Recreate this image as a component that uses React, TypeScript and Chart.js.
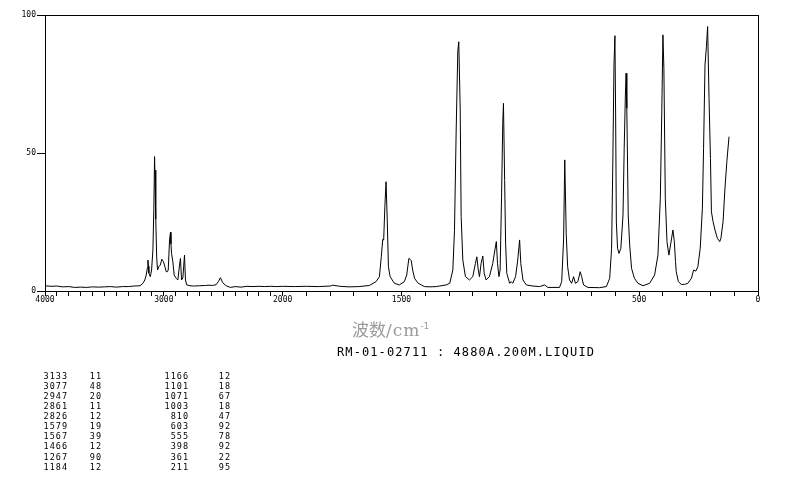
import React, { useEffect, useRef } from 'react';
import { Chart, registerables, LinearScale } from 'chart.js';

// Raman spectrum trace (wavenumber cm-1, relative intensity)
const wavenumbers = [
  4000, 3950, 3900, 3850, 3800, 3750, 3700, 3650, 3600, 3550, 3500, 3450, 3400, 3350, 3300, 3250, 3200,
  3176, 3160, 3148, 3138, 3134, 3130, 3126, 3114, 3103, 3092, 3084, 3078, 3074, 3070, 3066, 3060, 3053,
  3042, 3030, 3017, 3003, 2991, 2980, 2970, 2963, 2952, 2944, 2940, 2935, 2924, 2913, 2896, 2882, 2868,
  2860, 2851, 2840, 2833, 2826, 2818, 2807, 2780, 2750, 2700, 2650, 2620, 2590, 2560, 2540, 2524, 2504,
  2476, 2440, 2400, 2350, 2300, 2250, 2200, 2150, 2100, 2050, 2000, 1950, 1900, 1850, 1800, 1789, 1760,
  1720, 1680, 1635, 1607, 1593, 1585, 1579, 1575, 1570, 1565, 1560, 1555, 1548, 1530, 1509, 1488, 1478,
  1469, 1464, 1459, 1453, 1445, 1432, 1417, 1403, 1380, 1354, 1340, 1312, 1297, 1284, 1277, 1270, 1263,
  1259, 1253, 1249, 1242, 1231, 1214, 1200, 1189, 1183, 1177, 1172, 1165, 1158, 1152, 1144, 1130, 1116,
  1107, 1101, 1096, 1090, 1085, 1079, 1074, 1071, 1066, 1062, 1057, 1045, 1038, 1032, 1020, 1011, 1003,
  998, 989, 975, 947, 919, 898, 884, 835, 826, 818, 813, 807, 801, 793, 784, 776, 768, 758, 748, 742, 734,
  716, 667, 638, 624, 616, 611, 606, 602, 599, 596, 591, 585, 577, 568, 563, 558, 555, 552, 546, 540, 532,
  520, 505, 484, 456, 435, 421, 411, 405, 400, 396, 390, 383, 375, 368, 358, 352, 347, 344, 335, 323, 309,
  295, 280, 271, 262, 253, 243, 234, 229, 223, 217, 212, 206, 200, 196, 189, 181, 171, 161, 156, 147, 139,
  131, 122,
];
const intensities = [
  1.9, 1.7, 1.8, 1.5, 1.6, 1.3, 1.4, 1.3, 1.5, 1.4, 1.5, 1.6, 1.4, 1.6, 1.6, 1.8, 1.9,
  2.8, 4.0, 5.8, 8.5, 11.2, 9.0, 6.5, 5.2, 7.6, 14.8, 30, 48.7, 40, 43.8, 26, 12, 7.6,
  8.8, 9.4, 11.5, 10.6, 8.8, 7.0, 7.0, 7.6, 18.5, 21.3, 17, 13.6, 10.6, 5.8, 4.6, 4.0, 9.4,
  11.8, 4.0, 4.7, 9.0, 13.0, 4.0, 2.2, 1.9, 1.8, 1.9, 2.0, 2.1, 2.0, 2.3, 3.5, 4.8, 3.0,
  1.9, 1.3, 1.6, 1.4, 1.7, 1.6, 1.7, 1.6, 1.7, 1.6, 1.7, 1.6, 1.7, 1.6, 1.8, 2.1, 1.7,
  1.5, 1.6, 2.0, 3.4, 5.2, 12.4, 18.7, 18.5, 30.6, 39.6, 25.7, 8.8, 5.2, 2.8, 2.2, 3.4, 5.8,
  11.8, 11.5, 11.0, 7.6, 4.6, 3.0, 2.2, 1.6, 1.5, 1.6, 1.8, 2.2, 2.8, 7.6, 22, 58, 87,
  90.3, 65.6, 27, 11.2, 5.2, 4.0, 5.2, 10, 12.4, 7.6, 5.2, 10, 12.7, 6.4, 4.0, 5.2, 10,
  14.9, 17.9, 10, 5.2, 7.6, 34, 60.7, 68, 40, 17.3, 6.4, 2.8, 3.4, 2.8, 5.2, 11.2, 18.5,
  10, 4.0, 2.2, 1.8, 1.6, 2.2, 1.3, 1.3, 3.4, 18.5, 47.5, 20.9, 8.8, 4.0, 2.8, 5.2, 2.8, 3.4, 7.0, 5.2, 2.2,
  1.3, 1.2, 1.6, 4.6, 15.5, 45.7, 81.9, 92.5, 63.8, 25, 15.5, 13.6, 15.5, 27.5, 51.7, 71, 78.9, 66.2, 27.5, 16.7, 8.2,
  4.6, 2.8, 1.9, 2.8, 5.8, 13, 33.6, 63.8, 92.8, 80.7, 33.6, 17.9, 13, 16.7, 22.1, 17.9, 10.6, 7.0, 3.4, 2.4, 2.4,
  2.8, 4.6, 7.6, 7.2, 8.8, 15.5, 30, 51.7, 81.9, 88.5, 95.8, 69.8, 48, 28.7, 25.1, 22.1, 19.1, 17.9, 19.1, 25.1, 37.2,
  46.9, 55.9,
];

// Peak table
const peakPositions = [3133, 3077, 2947, 2861, 2826, 1579, 1567, 1466, 1267, 1184, 1166, 1101, 1071, 1003, 810, 603, 555, 398, 361, 211];
const peakIntensities = [11, 48, 20, 11, 12, 19, 39, 12, 90, 12, 12, 18, 67, 18, 47, 92, 78, 92, 22, 95];

const xTickLabels = [4000, 3000, 2000, 1500, 500, 0];
const xTickMarks = [
  4000, 3900, 3800, 3700, 3600, 3500, 3400, 3300, 3200, 3100, 3000, 2900, 2800, 2700, 2600, 2500, 2400,
  2300, 2200, 2100, 2000, 1900, 1800, 1700, 1600, 1500, 1400, 1300, 1200, 1100, 1000, 900, 800, 700, 600,
  500, 400, 300, 200, 100, 0,
];
const yTickValues = [0, 50, 100];
const xBreak = 2000;
const sampleLabel = 'RM-01-02711 : 4880A.200M.LIQUID';

// Linear scale whose region above the break is compressed by a factor of two
class SplitScale extends LinearScale {
  static id = 'split';
  static defaults = LinearScale.defaults;
  toFrac(v: number) {
    const max = this.max;
    const total = xBreak + (max - xBreak) / 2;
    const p = v <= xBreak ? v : xBreak + (v - xBreak) / 2;
    return p / total;
  }
  getPixelForValue(v: any) {
    if (v === null || v === undefined) return NaN;
    return this.getPixelForDecimal(this.toFrac(v));
  }
  getValueForPixel(px: number) {
    const total = xBreak + (this.max - xBreak) / 2;
    const p = this.getDecimalForPixel(px) * total;
    return p <= xBreak ? p : xBreak + (p - xBreak) * 2;
  }
}

Chart.register(...registerables, SplitScale as any);

const decor = {
  id: 'decor',
  afterDraw(chart: any) {
    const { ctx, chartArea: a } = chart;
    ctx.save();
    ctx.fillStyle = '#000';
    const top = Math.round(a.top);
    const right = Math.round(a.right);
    const yb = Math.round(a.bottom);
    // frame top and right
    ctx.fillRect(Math.round(a.left), top, right - Math.round(a.left) + 1, 1);
    ctx.fillRect(right, top, 1, yb - top + 1);

    // axis title
    ctx.fillStyle = '#9a9a9a';
    ctx.textBaseline = 'alphabetic';
    ctx.textAlign = 'left';
    let tx = 352;
    const ty = 336;
    ctx.font = "17px 'Noto Sans CJK SC'";
    ctx.fillText('波数', tx, ty);
    tx += ctx.measureText('波数').width;
    ctx.font = "17px 'DejaVu Serif'";
    (ctx as any).letterSpacing = '1px';
    ctx.fillText('/cm', tx, ty);
    tx += ctx.measureText('/cm').width;
    (ctx as any).letterSpacing = '0px';
    ctx.font = "9px 'DejaVu Sans'";
    ctx.fillText('-1', tx, ty - 7);

    // sample label
    ctx.fillStyle = '#000';
    ctx.font = "12px 'DejaVu Sans Mono'";
    (ctx as any).letterSpacing = '1.1px';
    ctx.fillText(sampleLabel, 337, 356);

    // peak table
    ctx.font = "8.5px 'DejaVu Sans Mono'";
    (ctx as any).letterSpacing = '1px';
    ctx.textAlign = 'right';
    ctx.textBaseline = 'middle';
    const half = Math.ceil(peakPositions.length / 2);
    for (let i = 0; i < peakPositions.length; i++) {
      const col = i < half ? 0 : 1;
      const row = i % half;
      const y = 376.5 + row * 10.1;
      const xPos = col === 0 ? 68 : 189;
      const xInt = col === 0 ? 102 : 231;
      ctx.fillText(String(peakPositions[i]), xPos, y);
      ctx.fillText(String(peakIntensities[i]), xInt, y);
    }
    ctx.restore();
  },
};

export default function App() {
  const ref = useRef<HTMLCanvasElement | null>(null);
  useEffect(() => {
    if (!ref.current) return;
    const chart = new Chart(ref.current, {
      type: 'line',
      data: {
        datasets: [
          {
            data: wavenumbers.map((w, i) => ({ x: w, y: intensities[i] })),
            borderColor: '#000',
            borderWidth: 1,
            pointRadius: 0,
            tension: 0,
            fill: false,
          },
        ],
      },
      options: {
        animation: false,
        responsive: false,
        devicePixelRatio: 1,
        events: [],
        layout: { padding: { left: 0, top: 15, right: 36, bottom: 171 } },
        plugins: { legend: { display: false }, tooltip: { enabled: false }, title: { display: false } },
        scales: {
          x: {
            type: 'split' as any,
            min: 0,
            max: 4000,
            reverse: true,
            afterBuildTicks: (s: any) => {
              s.ticks = xTickMarks.map((v) => ({ value: v }));
            },
            afterFit: (s: any) => {
              s.height = 20;
            },
            grid: { display: true, drawOnChartArea: false, drawTicks: true, tickLength: 5, color: '#000', lineWidth: 1 },
            border: { display: true, color: '#000', width: 1 },
            ticks: {
              autoSkip: false,
              maxRotation: 0,
              minRotation: 0,
              padding: -1,
              color: '#000',
              font: { family: 'DejaVu Sans Mono', size: 8 },
              callback: (v: any) => (xTickLabels.includes(v) ? String(v) : ''),
            },
          } as any,
          y: {
            min: 0,
            max: 100,
            afterBuildTicks: (s: any) => {
              s.ticks = yTickValues.map((v) => ({ value: v }));
            },
            afterFit: (s: any) => {
              s.width = 45;
            },
            grid: { drawOnChartArea: false, tickLength: 8, color: '#000' },
            border: { display: true, color: '#000', width: 1 },
            ticks: {
              padding: 1,
              color: '#000',
              font: { family: 'DejaVu Sans Mono', size: 8 },
            },
          },
        },
      },
      plugins: [decor],
    });
    return () => chart.destroy();
  }, []);
  return (
    <div style={{ position: 'absolute', left: 0, top: 0, width: 794, height: 482, background: '#fff' }}>
      <canvas ref={ref} width={794} height={482} style={{ display: 'block', width: 794, height: 482 }} />
    </div>
  );
}
